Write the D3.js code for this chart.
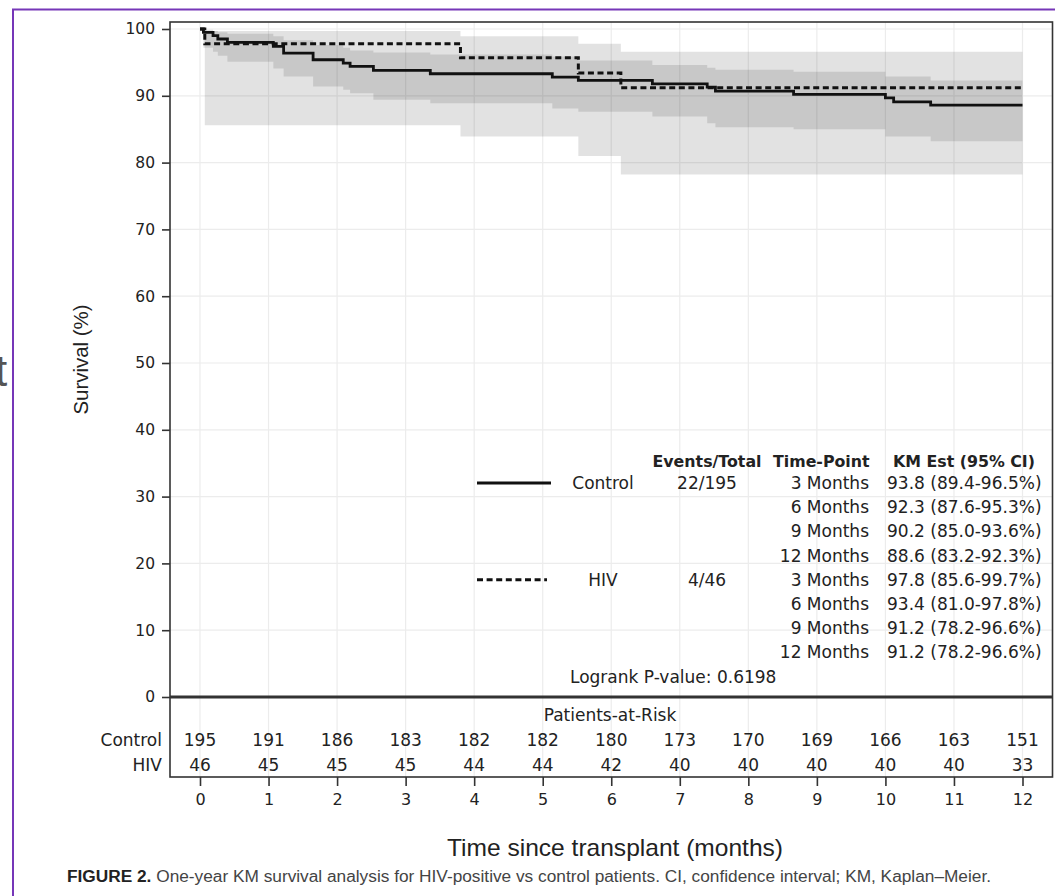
<!DOCTYPE html>
<html lang="en">
  <head>
    <meta charset="utf-8" />
    <title>One-year KM survival, HIV vs control</title>
    <script src="https://d3js.org/d3.v7.min.js"></script>
    <style>
      body {
        margin: 0;
        background: #fff;
      }
      .axis path {
        display: none;
      }
      .axis line {
        stroke: #333;
        stroke-width: 1.6px;
      }
      .axis text {
        font-family: "DejaVu Sans", sans-serif;
        fill: #222;
      }
      .grid line {
        stroke: #ececec;
        stroke-width: 1.2px;
      }
      .band {
        fill: #000;
        fill-opacity: 0.115;
        stroke: none;
      }
      .km {
        fill: none;
        stroke: #111;
        stroke-width: 2.8px;
      }
      .km.hiv {
        stroke-dasharray: 6, 3.6;
        stroke-width: 3px;
      }
      .tbl {
        font-family: "DejaVu Sans", sans-serif;
        font-size: 17px;
        fill: #222;
      }
      .tbl.head {
        font-weight: bold;
        font-size: 15.8px;
      }
      .title {
        font-family: "Liberation Sans", Arial, sans-serif;
        fill: #222;
      }
    </style>
  </head>
  <body>
    <script>
      // --- data ---
      let months = [0, 1, 2, 3, 4, 5, 6, 7, 8, 9, 10, 11, 12];
      let yTicks = [0, 10, 20, 30, 40, 50, 60, 70, 80, 90, 100];
      let endTime = 12;

      // control: step times (months), KM estimate and 95% CI (%)
      let controlTime = [0, 0.05, 0.19, 0.26, 0.4, 1.07, 1.22, 1.65, 2.09, 2.19, 2.53, 3.36, 5.14, 5.52, 6.6, 7.4, 7.52, 8.66, 10.0, 10.12, 10.66];
      let controlSurv = [100, 99.5, 99.0, 98.5, 98.0, 97.4, 96.4, 95.4, 94.9, 94.4, 93.8, 93.3, 92.8, 92.3, 91.8, 91.3, 90.7, 90.2, 89.7, 89.1, 88.6];
      let controlLow = [100, 97.2, 96.6, 96.0, 95.1, 94.1, 92.9, 91.4, 90.9, 90.4, 89.4, 88.9, 88.1, 87.6, 86.9, 85.9, 85.3, 85.0, 83.9, 83.9, 83.2];
      let controlHigh = [100, 99.9, 99.7, 99.5, 99.3, 98.9, 98.3, 97.6, 97.2, 96.8, 96.5, 96.2, 95.9, 95.3, 94.6, 94.2, 93.9, 93.6, 92.9, 92.9, 92.3];

      // HIV
      let hivTime = [0, 0.07, 3.8, 5.52, 6.14];
      let hivSurv = [100, 97.8, 95.7, 93.4, 91.2];
      let hivLow = [100, 85.6, 83.9, 81.0, 78.2];
      let hivHigh = [100, 99.7, 98.9, 97.8, 96.6];

      // patients at risk
      let riskControl = [195, 191, 186, 183, 182, 182, 180, 173, 170, 169, 166, 163, 151];
      let riskHiv = [46, 45, 45, 45, 44, 44, 42, 40, 40, 40, 40, 40, 33];

      // legend table
      let groupNames = ["Control", "HIV"];
      let groupEvents = ["22/195", "4/46"];
      let timePoints = ["3 Months", "6 Months", "9 Months", "12 Months"];
      let kmControl = ["93.8 (89.4-96.5%)", "92.3 (87.6-95.3%)", "90.2 (85.0-93.6%)", "88.6 (83.2-92.3%)"];
      let kmHiv = ["97.8 (85.6-99.7%)", "93.4 (81.0-97.8%)", "91.2 (78.2-96.6%)", "91.2 (78.2-96.6%)"];
      let logrank = "Logrank P-value: 0.6198";

      // --- layout ---
      let w = 1055;
      let h = 896;
      let plotL = 170;
      let plotR = 1052.5;
      let plotT = 22;
      let plotB = 697;
      let riskB = 777;

      let svg = d3.select("body").append("svg").attr("width", w).attr("height", h);

      // page border and stray glyph from the neighbouring column
      svg.append("text").attr("x", -5).attr("y", 386).attr("class", "title")
        .style("font-size", "44px").style("fill", "#555").text("t");
      svg.append("rect").attr("x", 0).attr("y", 0).attr("width", 12).attr("height", 340).attr("fill", "#fff");
      svg.append("path").attr("d", `M13,${h} V9.5 H${w}`)
        .attr("fill", "none").attr("stroke", "#7636b8").attr("stroke-width", 2);

      let x = d3.scaleLinear().domain([0, 12]).range([200, 1022.5]);
      let y = d3.scaleLinear().domain([0, 100]).range([plotB, 29]);

      // grid
      let grid = svg.append("g").attr("class", "grid");
      grid.selectAll(".gx").data(months).join("line").attr("class", "gx")
        .attr("x1", (d) => x(d)).attr("x2", (d) => x(d))
        .attr("y1", plotT).attr("y2", riskB);
      grid.selectAll(".gy").data(yTicks.slice(1)).join("line").attr("class", "gy")
        .attr("x1", plotL).attr("x2", plotR)
        .attr("y1", (d) => y(d)).attr("y2", (d) => y(d));

      function steps(time, surv, low, high) {
        let rows = time.map((t, i) => ({ t: t, s: surv[i], lo: low[i], hi: high[i] }));
        let last = rows[rows.length - 1];
        rows.push({ t: endTime, s: last.s, lo: last.lo, hi: last.hi });
        return rows;
      }
      let control = steps(controlTime, controlSurv, controlLow, controlHigh);
      let hiv = steps(hivTime, hivSurv, hivLow, hivHigh);

      let band = d3.area().curve(d3.curveStepAfter)
        .x((d) => x(d.t)).y0((d) => y(d.lo)).y1((d) => y(d.hi));
      let line = d3.line().curve(d3.curveStepAfter)
        .x((d) => x(d.t)).y((d) => y(d.s));

      svg.append("path").attr("class", "band").attr("d", band(hiv));
      svg.append("path").attr("class", "band").attr("d", band(control));
      svg.append("path").attr("class", "km control").attr("d", line(control));
      svg.append("path").attr("class", "km hiv").attr("d", line(hiv));

      // frames
      svg.append("rect").attr("x", plotL).attr("y", plotT)
        .attr("width", plotR - plotL).attr("height", riskB - plotT)
        .attr("fill", "none").attr("stroke", "#333").attr("stroke-width", 1.6);
      svg.append("line").attr("x1", plotL).attr("x2", plotR)
        .attr("y1", plotB).attr("y2", plotB)
        .attr("stroke", "#333").attr("stroke-width", 2.8);

      // axes
      svg.append("g").attr("class", "y axis")
        .attr("transform", `translate(${plotL},0)`)
        .call(d3.axisLeft(y).tickValues(yTicks).tickSize(8).tickPadding(7))
        .selectAll("text").style("font-size", "15.5px");
      svg.append("g").attr("class", "x axis")
        .attr("transform", `translate(0,${riskB})`)
        .call(d3.axisBottom(x).tickValues(months).tickSize(9).tickPadding(8))
        .selectAll("text").style("font-size", "16px");

      svg.append("text").attr("class", "title")
        .attr("transform", `translate(88,${(plotT + plotB) / 2}) rotate(-90)`)
        .attr("text-anchor", "middle").style("font-size", "20px")
        .attr("textLength", 110).attr("lengthAdjust", "spacingAndGlyphs")
        .text("Survival (%)");
      svg.append("text").attr("class", "title")
        .attr("x", 615).attr("y", 856).attr("text-anchor", "middle")
        .style("font-size", "24px")
        .attr("textLength", 336).attr("lengthAdjust", "spacingAndGlyphs")
        .text("Time since transplant (months)");

      // patients at risk
      let risk = svg.append("g").attr("class", "tbl");
      risk.append("text").attr("x", 610).attr("y", 715).attr("dy", "0.35em")
        .attr("text-anchor", "middle").text("Patients-at-Risk");
      [riskControl, riskHiv].forEach((row, k) => {
        let yy = 740 + k * 25;
        risk.append("text").attr("x", 162).attr("y", yy).attr("dy", "0.35em")
          .attr("text-anchor", "end").text(groupNames[k]);
        risk.selectAll(".r" + k).data(row).join("text").attr("class", "r" + k)
          .attr("x", (d, i) => x(months[i])).attr("y", yy).attr("dy", "0.35em")
          .attr("text-anchor", "middle").text((d) => d);
      });

      // legend / estimates table
      let rowY = d3.scaleLinear().domain([0, 1]).range([483, 507.2]);
      let leg = svg.append("g");
      leg.append("text").attr("class", "tbl head").attr("x", 707).attr("y", 461).attr("dy", "0.35em")
        .attr("text-anchor", "middle").text("Events/Total");
      leg.append("text").attr("class", "tbl head").attr("x", 773).attr("y", 461).attr("dy", "0.35em")
        .text("Time-Point");
      leg.append("text").attr("class", "tbl head").attr("x", 893).attr("y", 461).attr("dy", "0.35em")
        .text("KM Est (95% CI)");

      leg.append("line").attr("class", "km").attr("x1", 477).attr("x2", 551)
        .attr("y1", rowY(0)).attr("y2", rowY(0));
      leg.append("line").attr("class", "km hiv").attr("x1", 477).attr("x2", 547)
        .attr("y1", rowY(4)).attr("y2", rowY(4));

      groupNames.forEach((g, k) => {
        leg.append("text").attr("class", "tbl").attr("x", 603).attr("y", rowY(k * 4)).attr("dy", "0.35em")
          .attr("text-anchor", "middle").text(g);
        leg.append("text").attr("class", "tbl").attr("x", 707).attr("y", rowY(k * 4)).attr("dy", "0.35em")
          .attr("text-anchor", "middle").text(groupEvents[k]);
        let km = k === 0 ? kmControl : kmHiv;
        timePoints.forEach((tp, i) => {
          leg.append("text").attr("class", "tbl").attr("x", 869).attr("y", rowY(k * 4 + i)).attr("dy", "0.35em")
            .attr("text-anchor", "end").text(tp);
          leg.append("text").attr("class", "tbl").attr("x", 887).attr("y", rowY(k * 4 + i)).attr("dy", "0.35em")
            .text(km[i]);
        });
      });
      leg.append("text").attr("class", "tbl").attr("x", 570).attr("y", rowY(8)).attr("dy", "0.35em")
        .text(logrank);

      // caption
      let cap = svg.append("text").attr("class", "title").attr("x", 67).attr("y", 882)
        .style("font-size", "16px").style("fill", "#444")
        .attr("textLength", 924).attr("lengthAdjust", "spacingAndGlyphs");
      cap.append("tspan").style("font-weight", "bold").style("fill", "#222").text("FIGURE 2.");
      cap.append("tspan").text(" One-year KM survival analysis for HIV-positive vs control patients. CI, confidence interval; KM, Kaplan\u2013Meier.");
    </script>
  </body>
</html>
